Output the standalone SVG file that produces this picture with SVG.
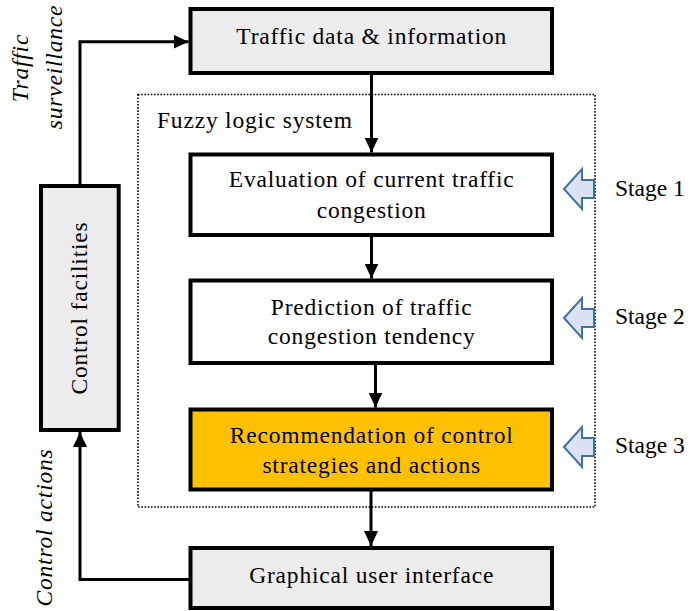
<svg xmlns="http://www.w3.org/2000/svg" width="692" height="611" viewBox="0 0 692 611">
  <defs>
    <style>
      .box { stroke: #000; stroke-width: 4; }
      .grey { fill: #ececec; }
      .white { fill: #ffffff; }
      .orange { fill: #ffc000; }
      .lbl { font-family: 'Liberation Serif', 'Times New Roman', serif; font-size: 23.5px; fill: #000; }
      .wide { letter-spacing: 0.8px; }
      .mid { text-anchor: middle; }
      .ital { font-style: italic; }
      .conn { fill: none; stroke: #000; stroke-width: 3; }
      .frame { fill: none; stroke: #000; stroke-width: 1.6; stroke-dasharray: 1.6 1.6; }
      .hollow { fill: #dae3f3; stroke: #41719c; stroke-width: 2; stroke-linejoin: miter; }
    </style>
    <marker id="head" markerUnits="userSpaceOnUse" markerWidth="16" markerHeight="15" refX="15" refY="7" orient="auto">
      <path d="M0,0 L15,7 L0,14 Z" fill="#000"/>
    </marker>
  </defs>

  <rect width="692" height="611" fill="#ffffff"/>

  <!-- fuzzy logic system frame -->
  <g id="fuzzy-system">
    <rect class="frame" x="138" y="94.5" width="457" height="412.5"/>
    <text class="lbl wide" x="157" y="127.5">Fuzzy logic system</text>
  </g>

  <!-- stage pointers -->
  <g id="stage1">
    <path class="hollow" d="M564,189 L582,169 L582,180 L594,180 L594,198 L582,198 L582,209 Z"/>
    <text class="lbl" x="615" y="195.7">Stage 1</text>
  </g>
  <g id="stage2">
    <path class="hollow" d="M564,318 L582,298 L582,309 L594,309 L594,327 L582,327 L582,338 Z"/>
    <text class="lbl" x="615" y="324">Stage 2</text>
  </g>
  <g id="stage3">
    <path class="hollow" d="M564,447 L582,427 L582,438 L594,438 L594,456 L582,456 L582,467 Z"/>
    <text class="lbl" x="615" y="452.5">Stage 3</text>
  </g>

  <g id="traffic-data">
    <rect class="box grey" x="190.5" y="9" width="361.5" height="64"/>
    <text class="lbl wide mid" x="371.7" y="43.5">Traffic data &amp; information</text>
  </g>

  <g id="evaluation">
    <rect class="box white" x="190.5" y="154.5" width="361.5" height="80.5"/>
    <text class="lbl wide mid" x="371.7" y="186.5">Evaluation of current traffic</text>
    <text class="lbl wide mid" x="371.7" y="217.5">congestion</text>
  </g>

  <g id="prediction">
    <rect class="box white" x="190.5" y="280.5" width="361.5" height="82.5"/>
    <text class="lbl wide mid" x="371.7" y="314.9">Prediction of traffic</text>
    <text class="lbl wide mid" x="371.7" y="344.2">congestion tendency</text>
  </g>

  <g id="recommendation">
    <rect class="box orange" x="190.5" y="409.5" width="361.5" height="80"/>
    <text class="lbl wide mid" x="371.7" y="442.5">Recommendation of control</text>
    <text class="lbl wide mid" x="371.7" y="472.5">strategies and actions</text>
  </g>

  <g id="gui">
    <rect class="box grey" x="190.5" y="548" width="361.5" height="60"/>
    <text class="lbl wide mid" x="371.7" y="582.5">Graphical user interface</text>
  </g>

  <g id="control-facilities">
    <rect class="box grey" x="41" y="186" width="77.7" height="244"/>
    <text class="lbl wide mid" transform="translate(86.5,308) rotate(-90)">Control facilities</text>
  </g>

  <!-- connectors -->
  <g id="connectors">
    <path class="conn" d="M371.5,73 V152.5" marker-end="url(#head)"/>
    <path class="conn" d="M371.5,235 V278.5" marker-end="url(#head)"/>
    <path class="conn" d="M375.5,363 V407.5" marker-end="url(#head)"/>
    <path class="conn" d="M371,489.5 V546" marker-end="url(#head)"/>
    <path class="conn" d="M80,186 V41.7 H188.5" marker-end="url(#head)"/>
    <path class="conn" d="M190.5,579.5 H80 V432" marker-end="url(#head)"/>
  </g>

  <!-- loop labels -->
  <g id="loop-labels">
    <text class="lbl wide mid ital" transform="translate(27.5,68) rotate(-90)">Traffic</text>
    <text class="lbl wide mid ital" transform="translate(61.5,67) rotate(-90)">surveillance</text>
    <text class="lbl wide mid ital" transform="translate(51.5,527.5) rotate(-90)">Control actions</text>
  </g>
</svg>
